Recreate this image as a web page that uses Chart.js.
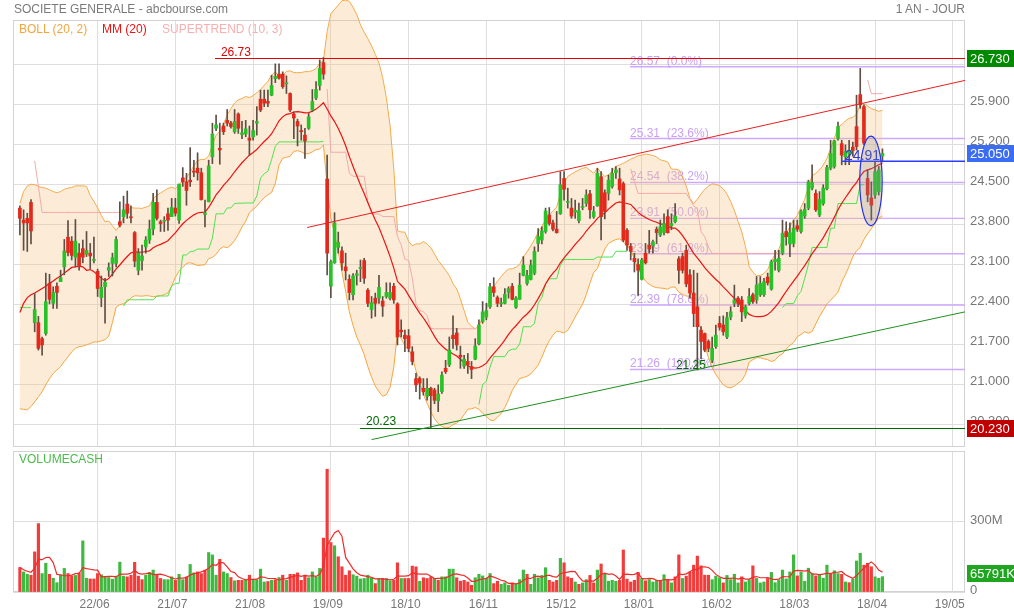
<!DOCTYPE html>
<html>
<head>
<meta charset="utf-8">
<script src="https://cdn.jsdelivr.net/npm/chart.js@4.4.1/dist/chart.umd.min.js"></script>
<style>
  body { margin: 0; background: #fff; font-family: 'Liberation Sans', Arial, sans-serif; }
  #wrap { position: relative; width: 1014px; height: 614px; overflow: hidden; }
  canvas { position: absolute; left: 0; }
  .t { position: absolute; font-size: 12px; line-height: 14px; white-space: pre; z-index: 2; }
</style>
</head>
<body>
<div id="wrap">
  <canvas id="price" width="1014" height="450" style="top:0"></canvas>
  <canvas id="volume" width="1014" height="164" style="top:450px"></canvas>
  <div class="t" style="left:14px;top:2px;color:#7a7a7a">SOCIETE GENERALE - abcbourse.com</div>
  <div class="t" style="right:49px;top:2px;color:#7a7a7a">1 AN - JOUR</div>
  <div class="t" style="left:19px;top:22px;color:#f5a540">BOLL (20, 2)</div>
  <div class="t" style="left:102px;top:22px;color:#ee1111">MM (20)</div>
  <div class="t" style="left:162px;top:22px;color:#f6b0b0">SUPERTREND (10, 3)</div>
  <div class="t" style="left:19px;top:452px;color:#4cba4c">VOLUMECASH</div>
</div>
<script>
// ---- données (une bougie par séance) ----
const dateLabels = ['22/06', '21/07', '21/08', '19/09', '18/10', '16/11', '15/12', '18/01', '16/02', '18/03', '18/04', '19/05'];
const dateIdx = [21, 42, 63, 84, 105, 126, 147, 168, 189, 210, 231, 252];

const opens = [
  24.09, 23.88, 23.91, 24.19, 22.08, 22.08, 21.80, 21.89, 22.77, 22.42,
  22.72, 22.80, 23.06, 23.58, 23.51, 23.23, 23.30, 23.38, 23.28, 23.30,
  23.17, 22.98, 22.52, 22.71, 23.00, 23.12, 23.12, 23.85, 23.94, 24.16,
  23.93, 23.66, 23.00, 23.17, 23.41, 23.53, 23.72, 24.19, 23.85, 23.86,
  23.99, 23.94, 24.09, 23.88, 24.62, 24.55, 24.58, 24.74, 24.79, 24.71,
  23.98, 24.20, 24.99, 25.49, 25.14, 25.53, 25.63, 25.58, 25.43, 25.74,
  25.38, 25.39, 25.32, 25.34, 25.58, 26.00, 26.00, 25.96, 26.07, 26.36,
  26.44, 26.44, 26.27, 26.10, 25.74, 25.61, 25.45, 25.37, 25.49, 25.81,
  26.02, 26.24, 26.64, 24.60, 22.72, 23.13, 23.40, 23.34, 23.06, 22.84,
  22.57, 22.91, 23.03, 23.17, 22.65, 22.31, 22.51, 22.51, 22.46, 22.54,
  22.51, 22.72, 22.41, 21.95, 21.86, 21.85, 21.57, 21.10, 21.10, 20.93,
  20.79, 20.93, 20.90, 20.71, 20.87, 21.28, 21.34, 21.86, 21.90, 21.51,
  21.32, 21.40, 21.31, 21.44, 21.71, 22.10, 22.18, 22.36, 22.71, 22.52,
  22.41, 22.42, 22.61, 22.72, 22.35, 22.49, 22.91, 22.77, 22.84, 22.95,
  23.47, 23.53, 23.68, 23.97, 23.83, 23.72, 23.99, 24.61, 24.19, 24.09,
  24.02, 23.87, 24.10, 24.17, 24.34, 23.94, 24.13, 24.64, 24.36, 24.35,
  24.47, 24.71, 24.60, 24.52, 23.70, 23.42, 23.21, 23.10, 22.84, 23.30,
  23.44, 23.43, 23.72, 23.62, 23.66, 23.94, 23.78, 23.85, 23.20, 23.24,
  23.35, 22.92, 22.60, 22.36, 21.95, 21.89, 21.75, 21.42, 21.66, 22.07,
  22.04, 21.83, 22.18, 22.42, 22.51, 22.48, 22.21, 22.42, 22.57, 22.48,
  22.57, 22.57, 22.88, 22.67, 23.15, 23.00, 23.30, 23.68, 23.46, 23.47,
  23.78, 23.68, 23.95, 24.09, 24.44, 24.35, 23.97, 24.17, 24.43, 24.79,
  24.82, 25.31, 25.22, 24.99, 25.05, 25.16, 25.52, 26.08, 25.87, 24.61,
  24.27, 24.32, 24.38, 25.00
];
const highs = [
  24.13, 24.06, 24.00, 24.24, 22.59, 22.19, 21.83, 22.95, 22.93, 22.71,
  22.78, 23.00, 23.54, 23.87, 23.59, 23.89, 23.47, 23.53, 23.68, 23.47,
  23.58, 23.02, 22.90, 22.86, 23.13, 23.30, 23.59, 24.20, 24.30, 24.39,
  24.13, 23.68, 23.38, 23.44, 23.59, 23.88, 24.35, 24.41, 23.88, 23.94,
  24.09, 24.26, 24.26, 24.51, 24.80, 24.70, 25.15, 24.93, 25.06, 24.79,
  24.23, 24.93, 25.58, 25.72, 25.58, 25.58, 25.82, 25.61, 25.82, 25.76,
  25.61, 25.63, 25.53, 25.63, 25.87, 26.16, 26.16, 26.16, 26.42, 26.62,
  26.62, 26.48, 26.41, 26.11, 25.78, 25.65, 25.55, 25.49, 25.75, 26.17,
  26.31, 26.69, 26.73, 25.02, 23.18, 24.01, 23.67, 23.41, 23.30, 22.92,
  22.94, 23.00, 23.18, 23.21, 22.68, 22.54, 22.60, 22.91, 22.54, 22.78,
  22.78, 22.77, 22.43, 22.13, 21.95, 21.96, 21.66, 21.19, 21.13, 21.10,
  21.10, 20.95, 20.93, 20.99, 21.22, 21.42, 21.83, 22.20, 21.98, 21.67,
  21.51, 21.54, 21.40, 21.80, 22.13, 22.45, 22.42, 22.77, 22.87, 22.55,
  22.51, 22.68, 22.71, 22.77, 22.54, 22.95, 23.24, 23.00, 23.18, 23.41,
  23.73, 23.76, 24.09, 24.10, 23.88, 24.03, 24.73, 24.73, 24.44, 24.26,
  24.23, 24.18, 24.26, 24.41, 24.40, 24.12, 24.79, 24.73, 24.41, 24.67,
  24.79, 24.82, 24.79, 24.55, 23.73, 23.47, 23.30, 23.20, 23.21, 23.47,
  23.70, 23.53, 23.76, 23.88, 23.99, 24.06, 23.99, 24.17, 23.24, 23.30,
  23.44, 23.01, 23.00, 22.95, 22.01, 21.90, 21.78, 21.83, 22.04, 22.19,
  22.20, 22.26, 22.36, 22.74, 22.54, 22.54, 22.39, 22.68, 22.60, 22.89,
  22.89, 22.86, 22.95, 23.18, 23.35, 23.35, 23.88, 23.85, 23.83, 23.88,
  23.88, 24.06, 24.17, 24.58, 24.85, 24.41, 24.38, 24.50, 24.84, 25.28,
  25.28, 25.60, 25.28, 25.20, 25.28, 25.25, 26.07, 26.54, 25.90, 24.76,
  24.55, 24.90, 24.82, 25.13
];
const lows = [
  23.62, 23.35, 23.33, 23.46, 21.92, 21.60, 21.51, 21.86, 22.41, 22.33,
  22.33, 22.80, 22.92, 23.25, 23.18, 23.06, 23.00, 23.13, 23.24, 23.03,
  23.13, 22.54, 22.36, 22.07, 22.89, 22.90, 23.06, 23.76, 23.83, 23.91,
  23.83, 23.06, 22.92, 23.00, 23.30, 23.47, 23.62, 23.88, 23.68, 23.68,
  23.70, 23.94, 23.95, 23.82, 24.47, 24.14, 24.47, 24.64, 24.58, 24.23,
  23.76, 24.20, 24.87, 25.45, 24.86, 25.38, 25.53, 25.49, 25.40, 25.40,
  25.31, 25.34, 25.02, 25.28, 25.37, 25.78, 25.87, 25.87, 26.06, 26.29,
  26.35, 26.19, 26.10, 25.78, 25.31, 25.18, 25.28, 24.96, 25.47, 25.78,
  25.99, 26.16, 26.35, 22.92, 22.52, 23.12, 23.30, 23.00, 22.83, 22.48,
  22.48, 22.74, 22.80, 22.77, 22.36, 22.16, 22.19, 22.42, 22.19, 22.51,
  22.48, 22.42, 21.69, 21.83, 21.57, 21.57, 21.34, 20.87, 20.74, 20.81,
  20.72, 20.23, 20.66, 20.52, 20.84, 21.19, 21.31, 21.63, 21.60, 21.28,
  21.28, 21.19, 21.10, 21.43, 21.69, 22.07, 22.13, 22.33, 22.54, 22.36,
  22.36, 22.41, 22.51, 22.48, 22.33, 22.49, 22.90, 22.74, 22.83, 22.92,
  23.33, 23.46, 23.65, 23.79, 23.69, 23.65, 23.98, 24.23, 24.09, 23.91,
  23.91, 23.83, 24.06, 24.12, 23.91, 23.91, 24.12, 23.53, 23.90, 24.23,
  24.44, 24.61, 24.32, 23.50, 23.35, 23.18, 22.97, 22.56, 22.83, 23.11,
  23.30, 23.30, 23.47, 23.59, 23.62, 23.65, 23.71, 23.83, 22.77, 22.95,
  22.71, 22.51, 22.01, 21.25, 21.45, 21.57, 21.57, 21.38, 21.63, 21.95,
  21.86, 21.80, 22.13, 22.36, 22.36, 22.10, 22.16, 22.39, 22.42, 22.42,
  22.54, 22.54, 22.74, 22.65, 23.00, 22.97, 23.27, 23.44, 23.24, 23.41,
  23.68, 23.65, 23.91, 24.06, 24.41, 24.03, 23.94, 24.14, 24.41, 24.76,
  24.79, 25.28, 24.85, 24.85, 24.85, 25.00, 25.11, 25.84, 25.20, 24.20,
  23.88, 24.26, 24.32, 24.90
];
const closes = [
  23.91, 23.83, 23.83, 23.69, 22.31, 21.63, 21.69, 22.45, 22.49, 22.61,
  22.61, 22.87, 23.34, 23.31, 23.26, 23.51, 23.06, 23.23, 23.35, 23.25,
  23.19, 22.68, 22.70, 22.79, 23.05, 23.22, 23.54, 23.79, 24.06, 24.00,
  23.92, 23.16, 23.30, 23.25, 23.53, 23.72, 24.19, 23.91, 23.82, 23.86,
  23.88, 24.10, 24.00, 24.51, 24.55, 24.40, 24.55, 24.72, 24.71, 24.24,
  24.01, 24.83, 25.39, 25.55, 25.11, 25.43, 25.58, 25.52, 25.61, 25.49,
  25.41, 25.48, 25.28, 25.45, 25.61, 25.81, 25.93, 25.93, 26.24, 26.40,
  26.37, 26.22, 26.27, 25.81, 25.67, 25.53, 25.43, 25.27, 25.69, 25.96,
  26.17, 26.54, 26.44, 23.30, 23.15, 23.83, 23.49, 23.13, 22.99, 22.61,
  22.90, 22.94, 23.05, 22.86, 22.42, 22.43, 22.42, 22.70, 22.37, 22.61,
  22.61, 22.48, 21.83, 21.92, 21.80, 21.63, 21.40, 20.99, 21.02, 20.87,
  20.93, 20.80, 20.72, 20.83, 21.16, 21.22, 21.60, 21.80, 21.69, 21.48,
  21.44, 21.34, 21.26, 21.67, 22.04, 22.27, 22.29, 22.71, 22.61, 22.42,
  22.43, 22.58, 22.68, 22.49, 22.51, 22.74, 23.09, 22.91, 23.09, 23.33,
  23.59, 23.69, 24.04, 23.82, 23.72, 23.66, 24.50, 24.42, 24.19, 23.95,
  24.05, 24.04, 24.10, 24.32, 24.06, 24.03, 24.70, 23.94, 24.03, 24.58,
  24.70, 24.76, 24.41, 23.53, 23.44, 23.33, 23.15, 23.00, 23.18, 23.13,
  23.37, 23.50, 23.66, 23.76, 23.82, 23.66, 23.82, 23.95, 23.00, 23.00,
  22.76, 22.60, 22.24, 22.01, 21.75, 21.60, 21.63, 21.63, 21.86, 22.00,
  21.92, 22.17, 22.27, 22.48, 22.42, 22.27, 22.36, 22.54, 22.45, 22.74,
  22.77, 22.80, 22.78, 23.15, 23.19, 23.21, 23.65, 23.59, 23.66, 23.74,
  23.72, 24.03, 24.07, 24.55, 24.54, 24.06, 24.24, 24.44, 24.80, 25.05,
  25.27, 25.52, 25.02, 25.08, 25.10, 25.10, 25.17, 25.90, 25.23, 24.32,
  24.14, 24.73, 24.76, 25.05
];

// début des indicateurs (calculés sur un historique hors graphique)
const mmHead = [22.26, 22.42, 22.52, 22.57, 22.60, 22.64, 22.68, 22.72, 22.77, 22.81,
                22.86, 22.90, 22.95, 23.00, 23.05, 23.06, 23.07, 23.06, 23.00];
const bollUpHead = [24.17, 24.38, 24.48, 24.51, 24.50, 24.47, 24.45, 24.44, 24.41, 24.38,
                    24.36, 24.38, 24.42, 24.44, 24.45, 24.48, 24.48, 24.48, 24.47];
const bollLowHead = [20.57, 20.56, 20.55, 20.61, 20.69, 20.78, 20.87, 20.99, 21.10, 21.19,
                     21.25, 21.31, 21.40, 21.48, 21.57, 21.63, 21.66, 21.67, 21.69];

// volumes en millions de titres
const volumes = [
  105, 86, 76, 72, 172, 293, 79, 123, 76, 59,
  40, 72, 101, 79, 69, 71, 82, 219, 59, 56,
  56, 79, 74, 65, 62, 55, 68, 128, 68, 65,
  72, 127, 68, 53, 72, 84, 94, 74, 58, 53,
  53, 65, 50, 76, 53, 65, 118, 82, 86, 79,
  94, 169, 159, 72, 140, 86, 79, 62, 48, 50,
  50, 50, 72, 50, 53, 98, 43, 45, 50, 53,
  62, 72, 50, 76, 76, 82, 50, 72, 61, 86,
  65, 101, 231, 526, 212, 198, 151, 108, 72, 91,
  74, 68, 56, 58, 72, 59, 36, 58, 58, 58,
  48, 50, 125, 58, 58, 58, 111, 108, 46, 61,
  58, 65, 58, 50, 65, 65, 98, 98, 61, 46,
  50, 43, 29, 61, 76, 69, 58, 79, 36, 46,
  33, 39, 29, 39, 33, 53, 94, 76, 33, 76,
  61, 71, 104, 50, 43, 50, 144, 125, 65, 59,
  43, 33, 39, 53, 71, 39, 94, 120, 79, 46,
  50, 46, 50, 180, 55, 43, 50, 84, 58, 48,
  53, 43, 48, 50, 74, 50, 39, 65, 159, 58,
  68, 86, 115, 154, 112, 72, 72, 53, 68, 61,
  39, 71, 53, 76, 39, 65, 43, 53, 112, 58,
  39, 43, 58, 84, 40, 53, 94, 56, 86, 159,
  69, 86, 46, 102, 79, 69, 75, 59, 115, 79,
  91, 79, 76, 43, 40, 55, 133, 166, 115, 123,
  108, 65, 59, 65.791
];
// sens de la barre de volume (g = hausse, r = baisse)
const volDir =
  'rggrrrggrg' + 'gggrrgrggr' + 'rrgggggggr' + 'rrrrgggrrg' + 'ggrggrggrr' +
  'rgggrggrgr' + 'rgrggggrgr' + 'grgrrrrrgg' + 'ggrrrgrrrr' + 'ggggggrgrg' +
  'grrgrrrrgr' + 'rrgrggggrr' + 'rrrgggggrr' + 'gggrgggrgg' + 'gggrrrgrrr' +
  'grggrrgrgg' + 'ggrrrrrrgr' + 'gggrgrgrrg' + 'rrrrrrrggg' + 'rggggrggrg' +
  'ggrggggggg' + 'rggggrgggr' + 'ggrgrgggrr' + 'rggg';

// tracés manuels
const resistanceLevel = 26.73;
const supportLevel = 20.23;
const lowLabel = 21.25;
const markLevel = 24.91;
const fibLevels = [26.57, 25.31, 24.54, 23.91, 23.29, 22.39, 21.26];
const fibPct = ['0.0%', '23.6%', '38.2%', '50.0%', '61.8%', '78.6%', '100.0%'];
const upperTrend = [[77.6, 23.75], [255.3, 26.33]];
const lowerTrend = [[95.0, 20.03], [255.3, 22.27]];
const ellipseZone = { x: 229.9, y: 24.565, rx: 3.03, ry: 0.786 };

// ---- géométrie ----
const X_MIN = -1.86, X_MAX = 255.3;
const Y_MIN = 19.90, Y_MAX = 27.74, PANEL_TOP = 27.39;
const VOL_MAX = 604;
const priceTicks = [20.3, 21.0, 21.7, 22.4, 23.1, 23.8, 24.5, 25.2, 25.9, 26.6];
const FIB_FROM = 164.8, RES_FROM = 52.7, RES_LABEL = 54.3, SUP_FROM = 91.9, SUP_LABEL = 93.5;
const LOW_LABEL_AT = 177.2, MARK_FROM = 222.1, MARK_LABEL = 222.9;

Chart.defaults.font.family = "'Liberation Sans', Arial, sans-serif";

// ---- indicateurs ----
const n = closes.length;
const mm = [], bollUp = [], bollLow = [];
for (let i = 0; i < n; i++) {
  if (i < mmHead.length) {
    mm.push(mmHead[i]); bollUp.push(bollUpHead[i]); bollLow.push(bollLowHead[i]);
    continue;
  }
  const w = closes.slice(i - 19, i + 1);
  const m = w.reduce((a, b) => a + b, 0) / 20;
  const sd = Math.sqrt(w.reduce((a, b) => a + (b - m) * (b - m), 0) / 20);
  mm.push(m); bollUp.push(m + 2 * sd); bollLow.push(m - 2 * sd);
}

// supertrend (10, 3)
const stUp = [], stDown = [];
{
  let atr = 0, trSum = 0, up = 0, dn = 0, trend = 1;
  for (let i = 0; i < n; i++) {
    const h = highs[i], l = lows[i], c = closes[i];
    const tr = i === 0 ? h - l : Math.max(h - l, Math.abs(h - closes[i - 1]), Math.abs(l - closes[i - 1]));
    if (i < 10) { trSum += tr; atr = trSum / (i + 1); } else { atr = (atr * 9 + tr) / 10; }
    const mid = (h + l) / 2, bu = mid + 3 * atr, bl = mid - 3 * atr;
    if (i === 0) { up = bu; dn = bl; }
    else {
      const pc = closes[i - 1];
      up = (bu < up || pc > up) ? bu : up;
      dn = (bl > dn || pc < dn) ? bl : dn;
    }
    if (i > 0) trend = trend === 1 ? (c < dn ? -1 : 1) : (c > up ? 1 : -1);
    stUp.push(trend === 1 ? dn : null);
    stDown.push(trend === -1 ? up : null);
  }
}

const volMa = volumes.map((v, i) => {
  const w = volumes.slice(Math.max(0, i - 4), i + 1);
  return w.reduce((a, b) => a + b, 0) / w.length;
});

const xy = arr => arr.map((v, i) => ({ x: i, y: v }));
const bodies = opens.map((o, i) => ({ x: i, y: [o, closes[i]] }));
const wicks = lows.map((l, i) => ({ x: i, y: [l, highs[i]] }));
const bodyColors = opens.map((o, i) => closes[i] >= o ? '#26c226' : '#e3281c');
const volColors = volumes.map((v, i) => volDir[i] === 'g' ? '#3fb83f' : '#f23b3b');

const GRID = '#dedede';

function hline(ctx, x1, x2, y, color, exact) {
  const yy = exact ? y : Math.round(y) + 0.5;
  ctx.strokeStyle = color; ctx.beginPath();
  ctx.moveTo(x1, yy); ctx.lineTo(x2, yy); ctx.stroke();
}

// pas de marge automatique autour des axes
const fitY = w => s => { s.width = w; s.paddingTop = 0; s.paddingBottom = 0; };
const fitX = h => s => { s.height = h; s.paddingLeft = 0; s.paddingRight = 0; };

const pricePanel = {
  id: 'pricePanel',
  beforeDatasetsDraw(chart) {
    const { ctx, chartArea: a, scales: { x, y } } = chart;
    const top = y.getPixelForValue(PANEL_TOP);
    ctx.save();
    ctx.fillStyle = '#fff';
    ctx.fillRect(a.left - 1, 0, a.right - a.left + 2, top);
    ctx.strokeStyle = '#d2d2d2'; ctx.lineWidth = 1;
    ctx.strokeRect(a.left + 0.5, Math.round(top) + 0.5, a.right - a.left - 1, a.bottom - Math.round(top) - 1);
    // retracements de Fibonacci
    ctx.font = '12px "Liberation Sans", Arial, sans-serif';
    ctx.textBaseline = 'alphabetic';
    ctx.fillStyle = '#c8a2f4';
    ctx.lineWidth = 1.4;
    fibLevels.forEach((lv, k) => {
      const yy = y.getPixelForValue(lv);
      hline(ctx, x.getPixelForValue(FIB_FROM), a.right, yy, '#cfa8ff', true);
      ctx.fillText(lv.toFixed(2) + '  (' + fibPct[k] + ')', x.getPixelForValue(FIB_FROM), Math.round(yy) - 2);
    });
    ctx.restore();
  },
  afterDatasetsDraw(chart) {
    const { ctx, chartArea: a, scales: { x, y } } = chart;
    const px = v => x.getPixelForValue(v), py = v => y.getPixelForValue(v);
    ctx.save();
    ctx.beginPath(); ctx.rect(a.left, py(PANEL_TOP), a.right - a.left, a.bottom - py(PANEL_TOP)); ctx.clip();
    ctx.lineWidth = 1;
    ctx.font = '12px "Liberation Sans", Arial, sans-serif';
    // plus haut / plus bas
    hline(ctx, px(RES_FROM), a.right, py(resistanceLevel), '#e60000');
    ctx.fillStyle = '#e60000';
    ctx.fillText(resistanceLevel.toFixed(2), px(RES_LABEL), Math.round(py(resistanceLevel)) - 2);
    hline(ctx, px(SUP_FROM), a.right, py(supportLevel), '#006a00');
    ctx.fillStyle = '#006a00';
    ctx.fillText(supportLevel.toFixed(2), px(SUP_LABEL), Math.round(py(supportLevel)) - 3);
    ctx.fillText(lowLabel.toFixed(2), px(LOW_LABEL_AT), Math.round(py(lowLabel)) - 1);
    // droites de tendance
    [[upperTrend, '#e82020'], [lowerTrend, '#1f8f1f']].forEach(([pts, col]) => {
      ctx.strokeStyle = col; ctx.beginPath();
      ctx.moveTo(px(pts[0][0]), py(pts[0][1])); ctx.lineTo(px(pts[1][0]), py(pts[1][1])); ctx.stroke();
    });
    // niveau marqué + zone
    ctx.lineWidth = 1.5;
    hline(ctx, px(MARK_FROM), a.right, py(markLevel), '#2a3cff', true);
    ctx.fillStyle = '#2b3bd6';
    ctx.font = '14px "Liberation Sans", Arial, sans-serif';
    ctx.fillText(markLevel.toFixed(2), px(MARK_LABEL), Math.round(py(markLevel)) - 1);
    const ex = px(ellipseZone.x), ey = py(ellipseZone.y);
    const rx = px(ellipseZone.x + ellipseZone.rx) - ex, ry = ey - py(ellipseZone.y + ellipseZone.ry);
    ctx.beginPath(); ctx.ellipse(ex, ey, rx, ry, 0, 0, Math.PI * 2);
    ctx.fillStyle = 'rgba(140,140,150,0.25)'; ctx.fill();
    ctx.strokeStyle = '#2233ee'; ctx.lineWidth = 1.2; ctx.stroke();
    ctx.restore();
  },
  afterDraw(chart) {
    const { ctx, scales: { y } } = chart;
    const boxes = [
      [resistanceLevel, '#008a00'],
      [closes[n - 1], '#3a6cf4'],
      [supportLevel, '#c00000']
    ];
    ctx.save();
    ctx.font = '13px "Liberation Sans", Arial, sans-serif';
    ctx.textBaseline = 'middle';
    boxes.forEach(([v, bg]) => {
      const yc = Math.round(y.getPixelForValue(v));
      ctx.fillStyle = bg; ctx.fillRect(967, yc - 8, 47, 17);
      ctx.fillStyle = '#fff'; ctx.fillText(v.toFixed(3), 970, yc + 1);
    });
    ctx.restore();
  }
};

new Chart(document.getElementById('price'), {
  type: 'bar',
  data: {
    datasets: [
      { type: 'line', data: xy(bollUp), borderColor: '#f5a540', borderWidth: 1, pointRadius: 0, fill: false, order: 10 },
      { type: 'line', data: xy(bollLow), borderColor: '#f5a540', borderWidth: 1, pointRadius: 0,
        fill: '-1', backgroundColor: 'rgba(247,196,130,0.32)', order: 9 },
      { type: 'line', data: xy(stUp), borderColor: '#4fe04f', borderWidth: 1, pointRadius: 0, spanGaps: false, order: 8 },
      { type: 'line', data: xy(stDown), borderColor: '#f6a8a8', borderWidth: 1, pointRadius: 0, spanGaps: false, order: 8 },
      { type: 'line', data: xy(mm), borderColor: '#ee1111', borderWidth: 1.2, pointRadius: 0, order: 7 },
      { type: 'bar', data: wicks, backgroundColor: '#5e4e44', barThickness: 1, grouped: false, order: 2 },
      { type: 'bar', data: bodies, backgroundColor: bodyColors, barThickness: 3, grouped: false, minBarLength: 1, order: 1 }
    ]
  },
  options: {
    responsive: false,
    animation: false,
    events: [],
    layout: { padding: { left: 13, top: 0, right: 0, bottom: 0 } },
    plugins: { legend: { display: false }, tooltip: { enabled: false } },
    scales: {
      x: {
        type: 'linear', min: X_MIN, max: X_MAX, offset: false,
        grid: { color: GRID, offset: false, drawTicks: false },
        border: { display: false },
        ticks: { display: false },
        afterBuildTicks: s => { s.ticks = dateIdx.map(v => ({ value: v })); },
        afterFit: fitX(3)
      },
      y: {
        position: 'right', min: Y_MIN, max: Y_MAX,
        grid: { color: GRID, drawTicks: false },
        border: { display: false },
        ticks: { color: '#777', font: { size: 13 }, padding: 5, labelOffset: -3, autoSkip: false,
                 callback: v => v.toFixed(3) },
        afterBuildTicks: s => { s.ticks = priceTicks.map(v => ({ value: v })); },
        afterFit: fitY(49)
      }
    }
  },
  plugins: [pricePanel]
});

const volumePanel = {
  id: 'volumePanel',
  beforeDatasetsDraw(chart) {
    const { ctx, chartArea: a } = chart;
    ctx.save();
    ctx.strokeStyle = '#d2d2d2'; ctx.lineWidth = 1;
    ctx.strokeRect(a.left + 0.5, a.top + 0.5, a.right - a.left - 1, a.bottom - a.top - 1);
    ctx.restore();
  },
  afterDraw(chart) {
    const { ctx, scales: { y } } = chart;
    const v = volumes[n - 1];
    const yc = Math.round(y.getPixelForValue(v)) - 4;
    ctx.save();
    ctx.font = '13px "Liberation Sans", Arial, sans-serif';
    ctx.textBaseline = 'middle';
    ctx.fillStyle = '#1fa51f'; ctx.fillRect(967, yc - 8, 47, 17);
    ctx.fillStyle = '#fff'; ctx.fillText(Math.round(v * 1000) + 'K', 970, yc + 1);
    ctx.restore();
  }
};

new Chart(document.getElementById('volume'), {
  type: 'bar',
  data: {
    datasets: [
      { type: 'line', data: xy(volMa), borderColor: '#f02a2a', borderWidth: 1.2, pointRadius: 0, order: 0 },
      { type: 'bar', data: xy(volumes), backgroundColor: volColors, barThickness: 2.5, grouped: false, order: 1 }
    ]
  },
  options: {
    responsive: false,
    animation: false,
    events: [],
    layout: { padding: { left: 13, top: 1, right: 0, bottom: 0 } },
    plugins: { legend: { display: false }, tooltip: { enabled: false } },
    scales: {
      x: {
        type: 'linear', min: X_MIN, max: X_MAX, offset: false,
        grid: { color: GRID, offset: false, drawTicks: false },
        border: { display: false },
        ticks: { color: '#777', font: { size: 12 }, padding: 5, labelOffset: -3, autoSkip: false, maxRotation: 0,
                 callback: (v, i) => dateLabels[i] },
        afterBuildTicks: s => { s.ticks = dateIdx.map(v => ({ value: v })); },
        afterFit: fitX(22)
      },
      y: {
        position: 'right', min: 0, max: VOL_MAX,
        grid: { color: GRID, drawTicks: false },
        border: { display: false },
        ticks: { color: '#777', font: { size: 13 }, padding: 5, labelOffset: -2, autoSkip: false,
                 callback: v => v === 0 ? '0' : v + 'M' },
        afterBuildTicks: s => { s.ticks = [0, 300].map(v => ({ value: v })); },
        afterFit: fitY(49)
      }
    }
  },
  plugins: [volumePanel]
});
</script>
</body>
</html>
